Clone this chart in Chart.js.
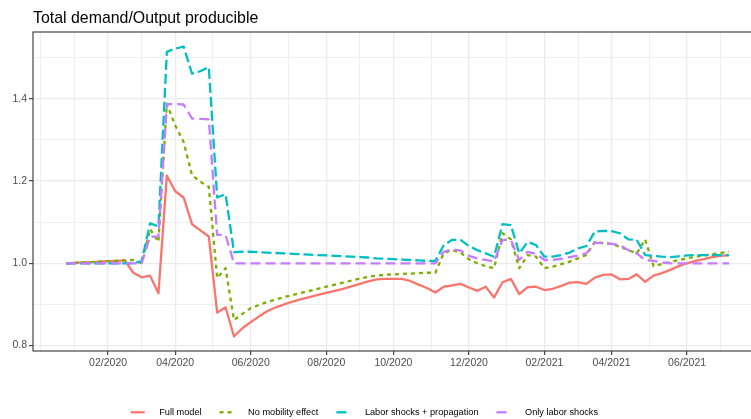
<!DOCTYPE html>
<html>
<head>
<meta charset="utf-8">
<script src="https://cdn.jsdelivr.net/npm/chart.js@4.4.0/dist/chart.umd.min.js"></script>
<style>
  html, body { margin: 0; padding: 0; background: #fff; }
  #wrap { position: relative; width: 751px; height: 419px; overflow: hidden; }
  #chart { position: absolute; left: 0; top: 0; }
</style>
</head>
<body>
<div id="wrap"><canvas id="chart" width="770" height="419"></canvas></div>
<script>
// weekly series, index 0 = first week shown
const titleText = 'Total demand/Output producible';

const fullModel = [
  1.000, 1.001, 1.002, 1.003, 1.004, 1.005, 1.006, 1.007,
  0.977, 0.966, 0.970, 0.927, 1.213, 1.175, 1.160, 1.095,
  1.080, 1.065, 0.880, 0.893, 0.822, 0.842, 0.857, 0.871,
  0.884, 0.893, 0.900, 0.907, 0.913, 0.918, 0.923, 0.928,
  0.933, 0.938, 0.944, 0.950, 0.956, 0.961, 0.962, 0.962,
  0.962, 0.957, 0.948, 0.940, 0.929, 0.943, 0.946, 0.950,
  0.941, 0.933, 0.943, 0.917, 0.954, 0.962, 0.925, 0.942,
  0.943, 0.935, 0.938, 0.945, 0.953, 0.954, 0.950, 0.965,
  0.972, 0.973, 0.961, 0.962, 0.973, 0.955, 0.970, 0.976,
  0.984, 0.993, 1.000, 1.006, 1.010, 1.015, 1.018, 1.020
];

const noMobility = [
  1.000, 1.001, 1.002, 1.003, 1.004, 1.005, 1.006, 1.007,
  1.008, 1.000, 1.083, 1.052, 1.388, 1.335, 1.295, 1.214,
  1.198, 1.186, 0.964, 0.988, 0.862, 0.877, 0.891, 0.899,
  0.906, 0.912, 0.918, 0.923, 0.928, 0.933, 0.938, 0.943,
  0.948, 0.953, 0.958, 0.963, 0.967, 0.970, 0.972, 0.973,
  0.974, 0.975, 0.976, 0.977, 0.977, 1.025, 1.032, 1.026,
  1.010, 1.000, 0.993, 0.988, 1.073, 1.058, 0.988, 1.020,
  1.016, 0.988, 0.992, 0.998, 1.004, 1.012, 1.020, 1.052,
  1.049, 1.047, 1.040, 1.032, 1.024, 1.058, 0.993, 0.998,
  1.003, 1.008, 1.012, 1.016, 1.019, 1.022, 1.025, 1.028
];

const laborPropagation = [
  1.000, 1.000, 1.000, 1.000, 1.000, 1.000, 1.000, 1.000,
  1.000, 1.005, 1.097, 1.090, 1.514, 1.522, 1.527, 1.461,
  1.467, 1.477, 1.160, 1.168, 1.027, 1.028, 1.028, 1.027,
  1.026, 1.025, 1.024, 1.023, 1.022, 1.021, 1.020, 1.019,
  1.018, 1.017, 1.016, 1.015, 1.014, 1.012, 1.011, 1.010,
  1.009, 1.008, 1.007, 1.006, 1.006, 1.044, 1.057, 1.057,
  1.042, 1.032, 1.024, 1.016, 1.095, 1.093, 1.024, 1.052,
  1.044, 1.016, 1.016, 1.020, 1.026, 1.036, 1.042, 1.077,
  1.079, 1.078, 1.073, 1.058, 1.057, 1.020, 1.018, 1.016,
  1.015, 1.017, 1.019, 1.020, 1.020, 1.020, 1.020, 1.020
];

const laborOnly = [
  1.000, 1.000, 1.000, 1.000, 1.000, 1.000, 1.000, 1.000,
  1.000, 1.000, 1.065, 1.065, 1.387, 1.387, 1.386, 1.352,
  1.351, 1.350, 1.069, 1.069, 1.000, 1.000, 1.000, 1.000,
  1.000, 1.000, 1.000, 1.000, 1.000, 1.000, 1.000, 1.000,
  1.000, 1.000, 1.000, 1.000, 1.000, 1.000, 1.000, 1.000,
  1.000, 1.000, 1.000, 1.000, 1.000, 1.028, 1.034, 1.031,
  1.018, 1.012, 1.008, 1.004, 1.057, 1.057, 1.008, 1.028,
  1.023, 1.008, 1.008, 1.011, 1.015, 1.019, 1.024, 1.050,
  1.049, 1.047, 1.044, 1.032, 1.024, 1.008, 1.006, 1.002,
  1.000, 1.000, 1.000, 1.000, 1.000, 1.000, 1.000, 1.000
];

const seriesNames = ['Full model', 'No mobility effect', 'Labor shocks + propagation', 'Only labor shocks'];

// x axis: week index of each labelled month, plus minor grid breaks
const xTickWeeks = [5, 13, 22, 31, 39, 48, 57, 65, 74];
const xTickLabels = ['02/2020', '04/2020', '06/2020', '08/2020', '10/2020', '12/2020', '02/2021', '04/2021', '06/2021'];
const xMinorWeeks = [-3, 1, 9, 17.5, 26.5, 35, 43.5, 52.5, 61, 69.5, 78];
const yTicks = [0.8, 1.0, 1.2, 1.4];
const yMinor = [0.9, 1.1, 1.3, 1.5];

const weekIdx = fullModel.map((_, i) => i);
const allSeries = [fullModel, noMobility, laborPropagation, laborOnly];

// ggplot style 5% expansion
const xSpan = weekIdx[weekIdx.length - 1] - weekIdx[0];
const xMin = weekIdx[0] - 0.05 * xSpan;
const xMax = weekIdx[weekIdx.length - 1] + 0.05 * xSpan;
const flat = allSeries.flat();
const yLo = Math.min(...flat), yHi = Math.max(...flat);
const yMin = yLo - 0.05 * (yHi - yLo);
const yMax = yHi + 0.05 * (yHi - yLo);

const FONT = "'Liberation Sans', Arial, sans-serif";
const colors = ['#F8766D', '#7CAE00', '#00BFC4', '#C77CFF'];
const dashes = [[], [4, 4], [10, 4], [10, 5]];
const LINE_W = 2.3;

const isMajor = (list, v) => list.some(t => Math.abs(t - v) < 1e-9);

const ggDecor = {
  id: 'ggDecor',
  afterDraw(chart) {
    const { ctx, chartArea: a } = chart;
    ctx.save();
    // panel border
    ctx.strokeStyle = '#333333';
    ctx.lineWidth = 1.1;
    ctx.strokeRect(a.left, a.top, a.right - a.left, a.bottom - a.top);

    // title
    ctx.fillStyle = '#000000';
    ctx.font = '15.9px ' + FONT;
    ctx.textAlign = 'left';
    ctx.textBaseline = 'alphabetic';
    ctx.fillText(titleText, a.left, 22.5);

    // legend along the bottom
    ctx.font = '9.2px ' + FONT;
    ctx.textBaseline = 'middle';
    let x = 130.7;
    const y = 412.3;
    chart.data.datasets.forEach(ds => {
      ctx.strokeStyle = ds.borderColor;
      ctx.lineWidth = LINE_W;
      ctx.lineCap = 'butt';
      ctx.setLineDash(ds.borderDash || []);
      ctx.beginPath();
      ctx.moveTo(x, y);
      ctx.lineTo(x + 14, y);
      ctx.stroke();
      ctx.setLineDash([]);
      x += 14 + 14.5;
      ctx.fillStyle = '#000000';
      ctx.fillText(ds.label, x, y);
      x += ctx.measureText(ds.label).width + 18;
    });
    ctx.restore();
  }
};

const datasets = seriesNames.map((name, i) => ({
  label: name,
  data: weekIdx.map((w, j) => ({ x: w, y: allSeries[i][j] })),
  borderColor: colors[i],
  backgroundColor: colors[i],
  borderDash: dashes[i],
  borderWidth: LINE_W,
  borderCapStyle: 'butt',
  borderJoinStyle: 'round',
  pointRadius: 0,
  tension: 0,
  fill: false,
  order: seriesNames.length - i
}));

new Chart(document.getElementById('chart').getContext('2d'), {
  type: 'line',
  data: { datasets },
  options: {
    responsive: false,
    animation: false,
    devicePixelRatio: 1,
    layout: { padding: { top: 32, right: 7.8, left: 0, bottom: 0 } },
    plugins: {
      legend: { display: false },
      title: { display: false },
      tooltip: { enabled: false }
    },
    scales: {
      x: {
        type: 'linear',
        min: xMin,
        max: xMax,
        afterBuildTicks: s => {
          s.ticks = [...xMinorWeeks, ...xTickWeeks].sort((a, b) => a - b).map(v => ({ value: v }));
        },
        afterFit: s => { s.height = 68; },
        border: { display: false },
        grid: {
          color: '#EBEBEB',
          lineWidth: c => isMajor(xTickWeeks, c.tick.value) ? 1.3 : 0.8,
          tickLength: 4,
          tickWidth: 1.1,
          tickColor: c => isMajor(xTickWeeks, c.tick.value) ? '#333333' : 'rgba(0,0,0,0)'
        },
        ticks: {
          autoSkip: false,
          maxRotation: 0,
          padding: 2,
          color: '#4D4D4D',
          font: { family: FONT, size: 10.5 },
          callback: v => {
            const i = xTickWeeks.findIndex(t => Math.abs(t - v) < 1e-9);
            return i >= 0 ? xTickLabels[i] : '';
          }
        }
      },
      y: {
        type: 'linear',
        min: yMin,
        max: yMax,
        afterBuildTicks: s => {
          s.ticks = [...yTicks, ...yMinor].sort((a, b) => a - b).map(v => ({ value: v }));
        },
        afterFit: s => { s.width = 33; },
        border: { display: false },
        grid: {
          color: '#EBEBEB',
          lineWidth: c => isMajor(yTicks, c.tick.value) ? 1.3 : 0.8,
          tickLength: 4,
          tickWidth: 1.1,
          tickColor: c => isMajor(yTicks, c.tick.value) ? '#333333' : 'rgba(0,0,0,0)'
        },
        ticks: {
          autoSkip: false,
          padding: 2,
          color: '#4D4D4D',
          font: { family: FONT, size: 10.5 },
          callback: v => isMajor(yTicks, v) ? v.toFixed(1) : ''
        }
      }
    }
  },
  plugins: [ggDecor]
});
</script>
</body>
</html>
